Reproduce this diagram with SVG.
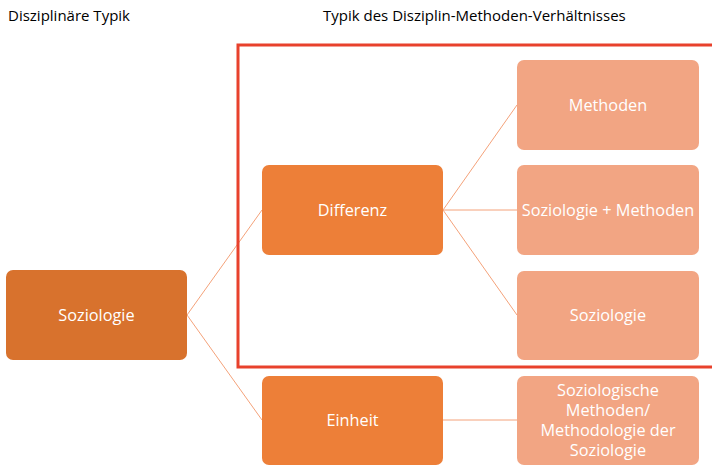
<svg xmlns="http://www.w3.org/2000/svg" width="712" height="466" viewBox="0 0 712 466">
<style>
text{font-family:"Open Sans","Liberation Sans",sans-serif;}
.h{font-size:15px;fill:#000;}
.n{font-size:16.3px;fill:#fff;text-anchor:middle;dominant-baseline:central;}
.l1{fill:#D8722D;}
.l2{fill:#ED7F38;}
.l3{fill:#F2A583;}
.c{stroke:#F4A27A;stroke-width:1;fill:none;}
</style>
<rect width="712" height="466" fill="#fff"/>
<text class="h" x="8" y="21">Disziplinäre Typik</text>
<text class="h" x="323" y="21">Typik des Disziplin-Methoden-Verhältnisses</text>
<g id="connectors">
<path class="c" d="M187,315 L262,210"/>
<path class="c" d="M187,315 L262,420"/>
<path class="c" d="M443,210 L517,105"/>
<path class="c" d="M443,210 L517,210"/>
<path class="c" d="M443,210 L517,315"/>
<path class="c" d="M443,420 L517,420"/>
</g>
<g id="frame"><rect x="238" y="45" width="480" height="322" fill="none" stroke="#E8412C" stroke-width="3"/></g>
<g id="root"><rect class="l1" x="6" y="270" width="181" height="90" rx="7"/><text class="n" x="96.5" y="315">Soziologie</text></g>
<g id="differenz"><rect class="l2" x="262" y="165" width="181" height="90" rx="7"/><text class="n" x="352.5" y="210">Differenz</text></g>
<g id="einheit"><rect class="l2" x="262" y="376" width="181" height="89" rx="7"/><text class="n" x="352.5" y="420">Einheit</text></g>
<g id="methoden"><rect class="l3" x="517" y="60" width="182" height="90" rx="7"/><text class="n" x="608" y="105">Methoden</text></g>
<g id="soz-meth"><rect class="l3" x="517" y="165" width="182" height="90" rx="7"/><text class="n" x="608" y="210">Soziologie + Methoden</text></g>
<g id="soziologie2"><rect class="l3" x="517" y="271" width="182" height="89" rx="7"/><text class="n" x="608" y="315">Soziologie</text></g>
<g id="soz-methodologie"><rect class="l3" x="517" y="376" width="182" height="89" rx="7"/>
<text class="n" x="608" y="390">Soziologische</text>
<text class="n" x="608" y="410">Methoden/</text>
<text class="n" x="608" y="430">Methodologie der</text>
<text class="n" x="608" y="450">Soziologie</text></g>
</svg>
